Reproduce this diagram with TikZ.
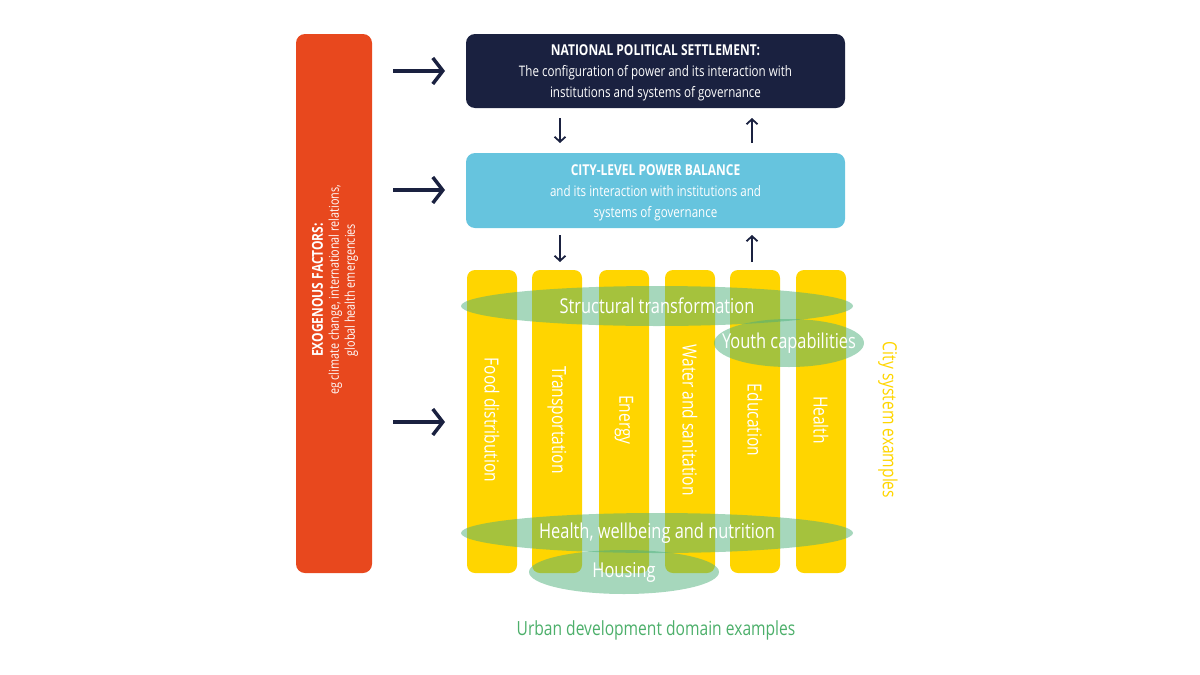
\documentclass[tikz,border=0pt]{standalone}
\usepackage{fontspec}
\setmainfont{Open Sans}[FakeStretch=0.8]
\usetikzlibrary{arrows.meta,shapes.geometric}
\definecolor{orng}{HTML}{E8481E}
\definecolor{navy}{HTML}{1A2140}
\definecolor{sky}{HTML}{66C4DE}
\definecolor{yel}{HTML}{FFD500}
\definecolor{grn}{HTML}{4DB07A}
\definecolor{dgrn}{HTML}{4CAF6A}
\begin{document}
\begin{tikzpicture}[x=1pt,y=-1pt,
  big/.style={draw=navy,line width=3.5pt,-{Straight Barb[length=10pt,width=26pt,line width=3.5pt]}},
  small/.style={draw=navy,line width=1.8pt,-{Straight Barb[length=5pt,width=11pt,line width=1.8pt]}},
  bar/.style={fill=yel,rounded corners=8pt},
  ell/.style={fill=grn,fill opacity=0.5,ellipse},
  etx/.style={text=white,font=\fontsize{20.5}{20}\selectfont},
  btx/.style={text=white,align=center,font=\fontsize{14.5}{21}\selectfont},
  lbl/.style={text=white,font=\fontsize{19.5}{19}\selectfont,rotate=-90}]
\useasboundingbox (0,0) rectangle (1200,675);
\fill[orng,rounded corners=9pt] (296,34) rectangle (372,573);
\node[rotate=90,text=white,align=center,font=\fontsize{13.5}{16}\selectfont] (exo) at (335,290)
 {{\bfseries\fontsize{15}{16}\selectfont EXOGENOUS FACTORS:}\\eg climate change, international relations,\\global health emergencies};
\fill[navy,rounded corners=9pt] (466,34) rectangle (845,108);
\fill[sky,rounded corners=9pt] (466,153) rectangle (845,228);
\coordinate (natL) at (466,71); \coordinate (natR) at (845,71);
\coordinate (cityL) at (466,190); \coordinate (cityR) at (845,190);
\node[btx] (nat) at (655.5,73)
 {{\bfseries\fontsize{15}{15}\selectfont NATIONAL POLITICAL SETTLEMENT:}\\The configuration of power and its interaction with\\institutions and systems of governance};
\node[btx] (city) at (655.5,193)
 {{\bfseries\fontsize{15}{15}\selectfont CITY-LEVEL POWER BALANCE}\\and its interaction with institutions and\\systems of governance};
\coordinate (a1) at (393,71); \coordinate (a1e) at (445,71);
\coordinate (a2) at (393,190); \coordinate (a2e) at (445,190);
\coordinate (a3) at (393,422); \coordinate (a3e) at (445,422);
\draw[big] (a1) -- (a1e); \draw[big] (a2) -- (a2e); \draw[big] (a3) -- (a3e);
\coordinate (d1) at (560,118); \coordinate (d1e) at (560,143);
\coordinate (u1) at (752,143); \coordinate (u1e) at (752,118);
\coordinate (d2) at (560,235); \coordinate (d2e) at (560,262);
\coordinate (u2) at (752,262); \coordinate (u2e) at (752,235);
\draw[small] (d1)--(d1e); \draw[small] (u1)--(u1e);
\draw[small] (d2)--(d2e); \draw[small] (u2)--(u2e);
\foreach \x/\t/\n in {492/Food distribution/b1,557/Transportation/b2,624/Energy/b3,690/Water and sanitation/b4,755/Education/b5,821/Health/b6}{
  \fill[bar] (\x-25,270) rectangle (\x+25,573);
  \node[lbl] (\n) at (\x,420) {\t};
}
\node[ell,minimum width=392pt,minimum height=40pt] (st) at (657,306) {};
\node[ell,minimum width=150pt,minimum height=48pt] (yc) at (789,343) {};
\node[ell,minimum width=392pt,minimum height=40pt] (hw) at (657,533) {};
\node[ell,minimum width=190pt,minimum height=44pt] (ho) at (624,572) {};
\node[etx] at (st) {Structural transformation};
\node[etx] at (yc) {Youth capabilities};
\node[etx] at (hw) {Health, wellbeing and nutrition};
\node[etx] at (ho) {Housing};
\node[rotate=-90,text=yel,font=\fontsize{19.5}{19}\selectfont] (cse) at (888,420) {City system examples};
\node[text=dgrn,font=\fontsize{19.5}{19}\selectfont] (ude) at (656,630) {Urban development domain examples};
\end{tikzpicture}
\end{document}
